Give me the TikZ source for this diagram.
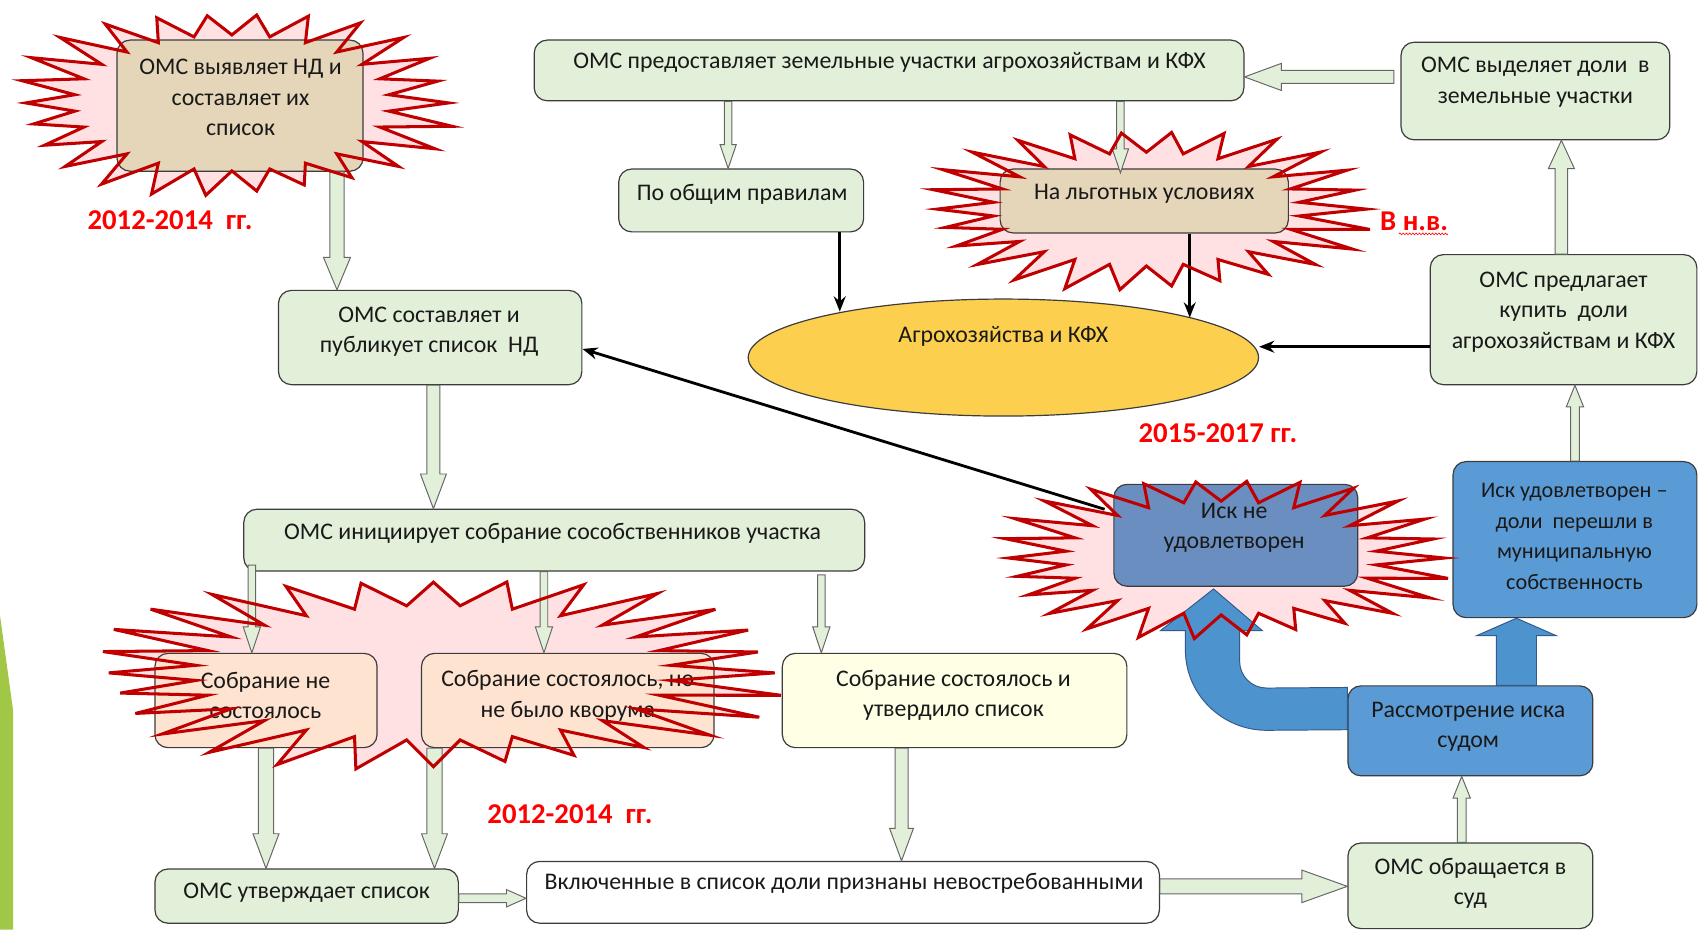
\documentclass[tikz,border=0pt]{standalone}
\usepackage{fontspec}
\setmainfont{Carlito}
\usetikzlibrary{calc,arrows.meta,shapes.geometric,decorations.pathmorphing}
\definecolor{boxgreen}{RGB}{226,240,217}
\definecolor{boxtan}{RGB}{230,214,185}
\definecolor{boxpeach}{RGB}{253,227,208}
\definecolor{boxyel}{RGB}{255,255,229}
\definecolor{boxblue}{RGB}{91,155,213}
\definecolor{boxgblue}{RGB}{106,142,192}
\definecolor{arrblue}{RGB}{77,148,207}
\definecolor{arrblueline}{RGB}{50,90,140}
\definecolor{ellfill}{RGB}{252,208,78}
\definecolor{boxline}{RGB}{60,60,60}
\definecolor{burstpink}{RGB}{255,225,228}
\definecolor{burstred}{RGB}{192,0,0}
\definecolor{bargreen}{RGB}{160,200,70}
\definecolor{txtc}{RGB}{25,25,25}
\newcommand\burst[8]{% cx cy rx ry ratio 2N-1 2N step
  plot[domain=0:#6, samples=#7, variable=\k]
   ({#1+(ifthenelse(mod(round(\k),2)==1,#5,1+0.06*sin(\k*#8*3.7)))*#3*cos(\k*#8)},
    {#2+(ifthenelse(mod(round(\k),2)==1,#5,1+0.06*sin(\k*#8*3.7)))*#4*sin(\k*#8)}) -- cycle}
\newcommand\blk[6][]{%
  \path (#2) coordinate (bP) (#3) coordinate (bQ);
  \path ($(bQ)!#6!(bP)$) coordinate (bH);
  \draw[blockarr,#1] ($(bP)!#4!90:(bQ)$) -- ($(bH)!#4!-90:(bP)$) -- ($(bH)!#5!-90:(bP)$) -- (bQ)
    -- ($(bH)!#5!90:(bP)$) -- ($(bH)!#4!90:(bP)$) -- ($(bP)!#4!-90:(bQ)$) -- cycle;}
\tikzset{
  box/.style={draw=boxline, line width=1.1pt, rounded corners=12pt, inner sep=0pt},
  txt/.style={inner sep=0pt, align=center, text=txtc, font=\fontsize{22}{28}\selectfont},
  blockarr/.style={draw=black!60, fill=boxgreen, line width=0.9pt, line join=miter},
  bluearr/.style={draw=arrblueline, fill=arrblue, line width=0.9pt},
  burstfill/.style={fill=burstpink},
  burstline/.style={draw=burstred, line width=2.8pt, line join=miter},
  conn/.style={draw=black, line width=2.6pt, -{Stealth[length=14pt,width=11pt]}},
  yr/.style={inner sep=0pt, text=red, font=\fontsize{26.5}{30}\selectfont\bfseries},
}
\begin{document}
\begin{tikzpicture}[x=1pt,y=-1pt]
\useasboundingbox (0,0) rectangle (1568,858);
% left decoration bar
\fill[bargreen] (0,568) -- (12,655) -- (12,858) -- (0,858) -- cycle;
% burst fills
\path[burstfill] \burst{214}{95}{200}{86}{0.73}{51}{52}{6.923};
\path[burstfill] \burst{1058}{193}{203}{75}{0.7}{51}{52}{6.923};
\path[burstfill] \burst{400}{621}{315}{89}{0.7}{55}{56}{6.4286};
\path[burstfill] \burst{1127}{515}{206}{75}{0.7}{51}{52}{6.923};
% boxes
\node[box, fill=boxtan,   minimum width=227, minimum height=121] (b1) at (221.5,97.5) {};
\node[box, fill=boxgreen, minimum width=655, minimum height=56]  (b3) at (820.5,65) {};
\node[box, fill=boxgreen, minimum width=248, minimum height=90]  (b4) at (1417,84) {};
\node[box, fill=boxgreen, minimum width=226, minimum height=58]  (b6) at (684,185) {};
\node[box, fill=boxtan,   minimum width=266, minimum height=59]  (b8) at (1056,185.5) {};
\node[draw=boxline, line width=1.1pt, fill=ellfill, ellipse, inner sep=0pt, minimum width=471, minimum height=108] (ell) at (926,330) {};
\node[box, fill=boxgreen, minimum width=246, minimum height=120] (b13) at (1443,295) {};
\node[box, fill=boxgreen, minimum width=280, minimum height=87]  (b15) at (397,311.5) {};
\node[box, fill=boxgreen, minimum width=573, minimum height=57]  (b19) at (511.5,498.5) {};
\node[box, fill=boxgblue, minimum width=225, minimum height=94]  (b21) at (1140.5,494) {};
\node[box, fill=boxblue,  minimum width=225, minimum height=144] (b22) at (1453.5,498) {};
\node[box, fill=boxpeach, minimum width=205, minimum height=87]  (b24) at (245.5,646.5) {};
\node[box, fill=boxpeach, minimum width=270, minimum height=87]  (b25) at (524,646.5) {};
\node[box, fill=boxyel,   minimum width=318, minimum height=87]  (b26) at (881,646.5) {};
\node[box, fill=boxgreen, minimum width=280, minimum height=50]  (b29) at (283,827) {};
\node[box, fill=white,    minimum width=584, minimum height=57]  (b31) at (778,823.5) {};
\node[box, fill=boxgreen, minimum width=226, minimum height=79]  (b35) at (1357,817.5) {};
\node[box, fill=boxblue,  minimum width=226, minimum height=83]  (b36) at (1357,674.5) {};
% U-turn blue arrow from b36 to b21
\draw[bluearr] ($(b36.north west)+(0,2)$) -- (1169,635) .. controls (1155,635) and (1144,624) .. (1144,610)
  -- (1144,582) -- (1165,582) -- ($(b21.south)+(-20.5,2)$) -- (1071,582) -- (1094,582) -- (1094,600)
  .. controls (1094,641) and (1128,674) .. (1169,674) -- ($(b36.north west)+(0,41)$) -- cycle;
% block arrows
\coordinate (a1) at ($(b1.south)+(89.5,0)$);
\blk{a1}{a1 |- b15.north}{6.5pt}{12.5pt}{30pt}
\coordinate (a2) at ($(b3.south)+(-148.5,0)$);
\blk{a2}{a2 |- b6.north}{3.5pt}{7.5pt}{22pt}
\coordinate (a3) at ($(b3.south)+(213.5,0)$);
\blk{a3}{$(a3 |- b8.north)+(0,4)$}{3.5pt}{7.5pt}{22pt}
\coordinate (a4) at ($(b13.north)+(-2,0)$);
\blk{a4}{a4 |- b4.south}{5.7pt}{12pt}{26pt}
\coordinate (a5) at ($(b4.west)+(-6,-13)$);
\blk{a5}{a5 -| b3.east}{6pt}{12.5pt}{34pt}
\coordinate (a6) at ($(b15.south)+(3,0)$);
\blk{a6}{a6 |- b19.north}{6pt}{12pt}{32pt}
\coordinate (a7) at ($(b19.south west)+(8,-6)$);
\blk{a7}{a7 |- b24.north}{3.5pt}{8pt}{24pt}
\coordinate (a8) at ($(b19.south)+(-9.5,0)$);
\blk{a8}{a8 |- b25.north}{3.5pt}{8pt}{24pt}
\coordinate (a9) at ($(b19.south)+(246.5,3)$);
\blk{a9}{a9 |- b26.north}{3.5pt}{8pt}{24pt}
\coordinate (a10) at (b24.south);
\blk{a10}{a10 |- b29.north}{7pt}{12pt}{32pt}
\coordinate (a11) at ($(b25.south)+(-123,0)$);
\blk{a11}{a11 |- b29.north}{7pt}{12pt}{32pt}
\coordinate (a12) at ($(b26.south)+(-49,0)$);
\blk{a12}{a12 |- b31.north}{6pt}{11pt}{30pt}
\coordinate (a13) at ($(b29.east)+(0,2)$);
\blk{a13}{a13 -| b31.west}{4pt}{8pt}{18pt}
\coordinate (a14) at ($(b31.east)+(0,-5.5)$);
\blk{a14}{a14 -| b35.west}{7pt}{15pt}{42pt}
\coordinate (a15) at ($(b35.north)+(-8,0)$);
\blk{a15}{a15 |- b36.south}{4pt}{8pt}{20pt}
\coordinate (a16) at (b22.north);
\blk{a16}{a16 |- b13.south}{4pt}{8pt}{20pt}
\coordinate (a17) at ($(b36.north)+(42.5,0)$);
\blk[bluearr]{a17}{a17 |- b22.south}{18.5pt}{36.5pt}{16pt}
% black connectors
\coordinate (k1) at ($(b6.south)+(91,0)$);
\draw[conn] (k1) -- (k1 |- ell.164.7);
\coordinate (k2) at ($(b8.south)+(42,0)$);
\draw[conn] (k2) -- (k2 |- ell.12.1);
\coordinate (k3) at ($(b13.west)+(0,25)$);
\draw[conn] (k3) -- (k3 -| ell.east);
\coordinate (k4) at ($(b21.west)+(-8,-24)$);
\draw[conn] (k4) -- ($(b15.east)+(0,10.5)$);
% texts
\node[txt] (t1) at (222,90) {ОМС выявляет НД и\\составляет их\\список};
\node[txt] (t3) at (821,58) {ОМС предоставляет земельные участки агрохозяйствам и КФХ};
\node[txt] (t4) at (1417,76) {ОМС выделяет доли \ в\\земельные участки};
\node[txt] (t6) at (685,179) {По общим правилам};
\node[txt] (t8) at (1056,179) {На льготных условиях};
\node[txt] (tell) at (926,310) {Агрохозяйства и КФХ};
\node[txt] (t13) at (1443,288) {ОМС предлагает\\купить \ доли\\агрохозяйствам и КФХ};
\node[txt] (t15) at (396,306) {ОМС составляет и\\публикует список \ НД};
\node[txt] (t19) at (510,492) {ОМС инициирует собрание сособственников участка};
\node[txt] (t21) at (1139,487) {Иск не\\удовлетворен};
\node[txt, font=\fontsize{20.5}{28.3}\selectfont] (t22) at (1453,495) {Иск удовлетворен –\\доли \ перешли в\\муниципальную\\собственность};
\node[txt] (t24) at (245,642) {Собрание не\\состоялось};
\node[txt] (t25) at (524,642) {Собрание состоялось, но\\не было кворума};
\node[txt] (t26) at (880,642) {Собрание состоялось и\\утвердило список};
\node[txt] (t29) at (283,824) {ОМС утверждает список};
\node[txt] (t31) at (779,815) {Включенные в список доли признаны невостребованными};
\node[txt] (t35) at (1357,815) {ОМС обращается в\\суд};
\node[txt] (t36) at (1355,671) {Рассмотрение иска\\судом};
% red period labels
\node[yr] (y1) at (157,203) {2012-2014 \ гг.};
\node[yr] (y2) at (526,751) {2012-2014 \ гг.};
\node[yr] (y3) at (1124,400) {2015-2017 гг.};
\node[yr] (y4) at (1305,204) {В н.в.};
\draw[red, line width=0.6pt, decorate, decoration={snake, amplitude=0.8pt, segment length=3pt}]
  ($(y4.south)+(-14,3)$) -- ($(y4.south east)+(0,3)$);
% burst outlines
\path[burstline] \burst{214}{95}{200}{86}{0.73}{51}{52}{6.923};
\path[burstline] \burst{1058}{193}{203}{75}{0.7}{51}{52}{6.923};
\path[burstline] \burst{400}{621}{315}{89}{0.7}{55}{56}{6.4286};
\path[burstline] \burst{1127}{515}{206}{75}{0.7}{51}{52}{6.923};
\end{tikzpicture}
\end{document}
